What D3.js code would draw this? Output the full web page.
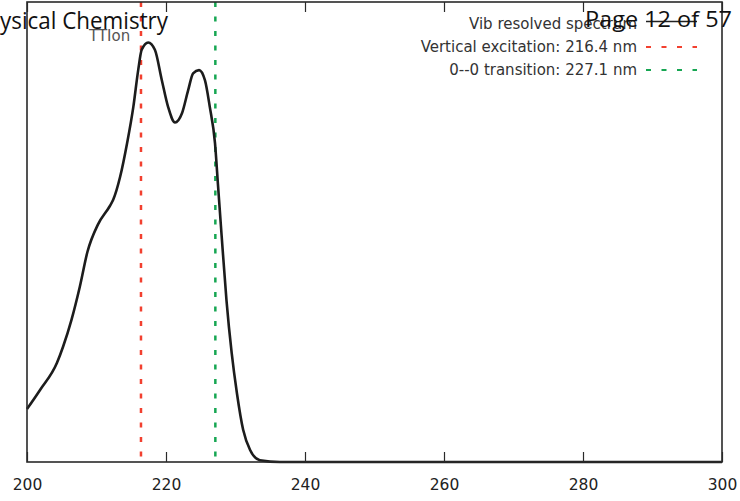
<!DOCTYPE html>
<html>
<head>
<meta charset="utf-8">
<script src="https://cdn.jsdelivr.net/npm/d3@7"></script>
<style>
  body { margin: 0; background: #fff; }
  svg { display: block; }
  .dv { font-family: "DejaVu Sans", "Liberation Sans", sans-serif; }
</style>
</head>
<body>
<svg id="chart"></svg>
<script>
// spectrum (nm, normalised intensity)
const wavelength = [200.0, 201.9, 204.3, 205.2, 206.4, 207.6, 208.7, 210.2, 211.9, 212.4, 213.4, 214.4,
  215.3, 216.0, 216.5, 217.45, 218.4, 219.4, 220.3, 221.3, 222.3, 223.2, 223.9, 224.75, 225.6,
  226.3, 227.05, 227.5, 228.0, 228.7, 229.45, 230.2, 231.1, 232.1, 233.5, 236.4, 240, 260, 280, 300];
const intensity = [0.115, 0.157, 0.215, 0.251, 0.309, 0.381, 0.457, 0.516, 0.556, 0.570, 0.620, 0.693,
  0.772, 0.852, 0.896, 0.912, 0.896, 0.830, 0.772, 0.738, 0.758, 0.809, 0.845, 0.852, 0.830,
  0.772, 0.693, 0.598, 0.493, 0.352, 0.237, 0.150, 0.070, 0.026, 0.004, 0.0, 0.0, 0.0, 0.0, 0.0];

const xTicks = [200, 220, 240, 260, 280, 300];
const markers = [216.4, 227.1];
const legendLabels = ["Vib resolved spectrum", "Vertical excitation: 216.4 nm", "0--0 transition: 227.1 nm"];
const legendColors = ["#222", "#f2402f", "#16a652"];

const width = 740;
const height = 501;
const plotLeft = 27, plotRight = 722, plotTop = 2, plotBottom = 462;

const svg = d3.select("#chart").attr("width", width).attr("height", height);

const x = d3.scaleLinear().domain([200, 300]).range([plotLeft, plotRight]);
const y = d3.scaleLinear().domain([0, 1]).range([plotBottom, plotTop]);

const data = wavelength.map((w, i) => ({ w, v: intensity[i] }));

// marker lines
svg.selectAll(".marker")
  .data(markers)
  .enter()
  .append("line")
  .attr("x1", (d) => x(d))
  .attr("x2", (d) => x(d))
  .attr("y1", plotTop)
  .attr("y2", plotBottom)
  .attr("stroke", (d, i) => legendColors[i + 1])
  .attr("stroke-width", 2.5)
  .attr("stroke-dasharray", "5,9.5");

// spectrum
const line = d3.line()
  .x((d) => x(d.w))
  .y((d) => y(d.v))
  .curve(d3.curveMonotoneX);

svg.append("path")
  .datum(data)
  .attr("d", line)
  .attr("fill", "none")
  .attr("stroke", "#1c1c1c")
  .attr("stroke-width", 2.6);

// frame and ticks
svg.append("rect")
  .attr("x", plotLeft).attr("y", plotTop)
  .attr("width", plotRight - plotLeft).attr("height", plotBottom - plotTop)
  .attr("fill", "none")
  .attr("stroke", "#2a2a2a")
  .attr("stroke-width", 1.6);

const xAxis = svg.append("g")
  .attr("transform", `translate(0,${plotBottom})`)
  .call(d3.axisBottom(x).tickValues(xTicks).tickSizeInner(-10).tickSizeOuter(0).tickPadding(17).tickFormat(d3.format("d")));
xAxis.select(".domain").remove();
xAxis.attr("font-family", null).attr("font-size", null).classed("dv", true);
xAxis.selectAll("line").attr("stroke", "#2a2a2a").attr("stroke-width", 1.2);
xAxis.selectAll("text")
  .style("font-size", "15.5px")
  .attr("fill", "#222");

const topAxis = svg.append("g")
  .attr("transform", `translate(0,${plotTop})`)
  .call(d3.axisTop(x).tickValues(xTicks).tickSizeInner(-10).tickSizeOuter(0).tickFormat(""));
topAxis.select(".domain").remove();
topAxis.selectAll("line").attr("stroke", "#2a2a2a").attr("stroke-width", 1.2);

// legend
const legend = svg.append("g").attr("class", "dv").style("font-size", "15px");
legendLabels.forEach((label, i) => {
  const ly = 24 + i * 23;
  legend.append("text")
    .attr("x", 637)
    .attr("y", ly)
    .attr("dy", "0.35em")
    .attr("text-anchor", "end")
    .attr("fill", "#333")
    .text(label);
  legend.append("line")
    .attr("x1", 646).attr("x2", 697)
    .attr("y1", i === 0 ? 21.5 : ly).attr("y2", i === 0 ? 21.5 : ly)
    .attr("stroke", legendColors[i])
    .attr("stroke-width", i === 0 ? 1.6 : 2.2)
    .attr("stroke-dasharray", i === 0 ? null : "5,10.5");
});

// partly hidden title
svg.append("text")
  .attr("class", "dv")
  .attr("x", 89).attr("y", 41)
  .style("font-size", "15px")
  .attr("fill", "#555")
  .text("TTIon");

// page header overlay
svg.append("text")
  .attr("x", 0).attr("y", 28.5)
  .attr("font-family", "Open Sans")
  .attr("font-size", 23)
  .attr("textLength", 168)
  .attr("lengthAdjust", "spacingAndGlyphs")
  .attr("fill", "#111")
  .text("ysical Chemistry");

svg.append("text")
  .attr("x", 585).attr("y", 27)
  .attr("font-family", "Open Sans")
  .attr("font-size", 21)
  .attr("textLength", 147)
  .attr("lengthAdjust", "spacingAndGlyphs")
  .attr("fill", "#111")
  .text("Page 12 of 57");
</script>
</body>
</html>
